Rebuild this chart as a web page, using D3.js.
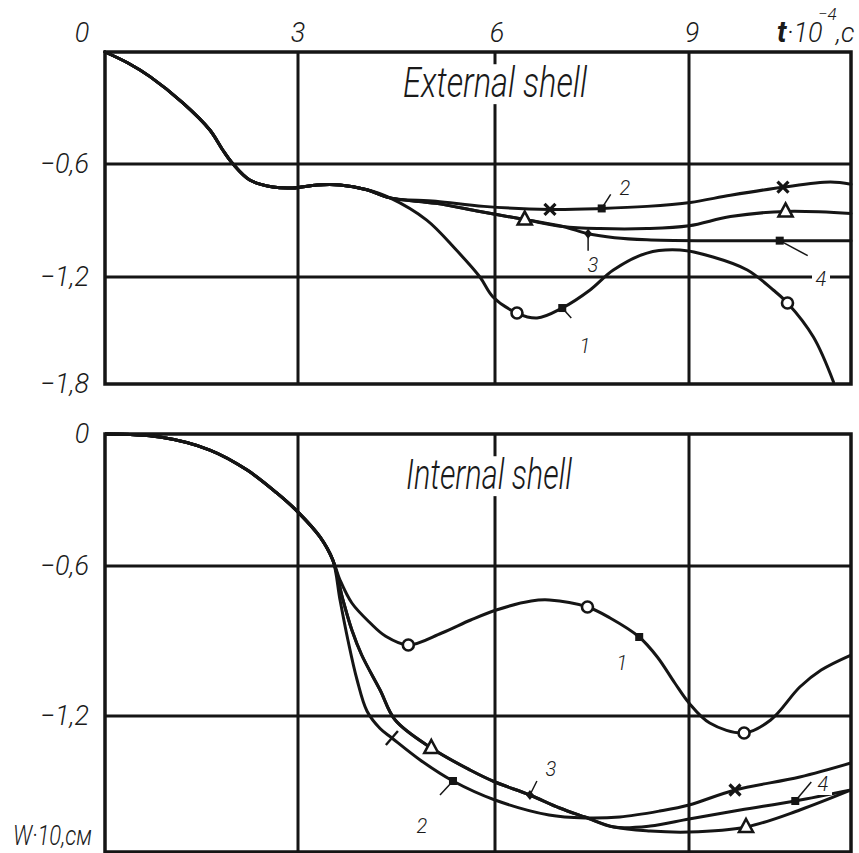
<!DOCTYPE html>
<html><head><meta charset="utf-8">
<script src="https://cdn.jsdelivr.net/npm/d3@7"></script>
<style>
html,body{margin:0;padding:0;background:#fff;}
text{font-family:Roboto,"DejaVu Sans Condensed","Open Sans",sans-serif;font-style:italic;font-weight:300;fill:#1a1a1a;}
text.bold{font-weight:700;}
</style>
</head><body>
<svg id="c" width="859" height="853"></svg>
<script>
// ---------- data ----------
const tTicks = [0, 3, 6, 9];
const tTickLabels = ["0", "3", "6", "9"];
const wTicks = [0, -0.6, -1.2, -1.8];
const wTickLabels = ["0", "\u22120,6", "\u22121,2", "\u22121,8"];
const wTicksBottom = [0, -0.6, -1.2];
const wTickLabelsBottom = ["0", "\u22120,6", "\u22121,2"];

// External shell (t·10^-4 s, W·10 cm)
const extShared = [[0,0],[0.357,-0.059],[0.70,-0.132],[1.21,-0.273],[1.63,-0.418],[1.83,-0.525],[1.99,-0.60],[2.25,-0.685],[2.61,-0.722],[2.92,-0.727],[3.29,-0.711],[3.64,-0.711],[4.05,-0.737],[4.40,-0.780]];
const ext1 = [[4.96,-0.898],[5.39,-1.049],[5.77,-1.20],[5.97,-1.312],[6.34,-1.402],[6.65,-1.43],[7.04,-1.374],[7.47,-1.273],[7.83,-1.163],[8.35,-1.073],[8.86,-1.057],[9.37,-1.094],[9.90,-1.163],[10.30,-1.273],[10.52,-1.346],[10.92,-1.537],[11.23,-1.789]];
const ext2 = [[5.10,-0.798],[5.83,-0.825],[6.85,-0.841],[7.65,-0.836],[8.35,-0.825],[9.02,-0.804],[9.64,-0.766],[10.45,-0.723],[11.18,-0.696],[11.5,-0.707]];
const ext3 = [[5.10,-0.809],[5.77,-0.852],[6.46,-0.895],[7.05,-0.932],[7.62,-0.943],[8.35,-0.943],[9.0,-0.928],[9.64,-0.879],[10.49,-0.852],[11.5,-0.863]];
const ext4 = [[5.10,-0.809],[5.77,-0.852],[6.46,-0.895],[7.05,-0.932],[7.44,-0.970],[7.85,-0.991],[8.35,-1.002],[9.17,-1.007],[10.40,-1.007],[11.5,-1.007]];

const extCircles = [[6.34,-1.402],[10.52,-1.346]];
const extCrosses = [[6.85,-0.841],[10.45,-0.723]];
const extTriangles = [[6.46,-0.895],[10.49,-0.852]];
const extSquares = [[7.04,-1.374],[7.65,-0.836],[10.40,-1.007]];
const extDiamonds = [[7.44,-0.970]];

// Internal shell
const intShared = [[0,0],[0.855,-0.014],[1.63,-0.073],[2.21,-0.164],[2.67,-0.268],[3.0,-0.355],[3.335,-0.468],[3.53,-0.573]];
const int1 = [[3.64,-0.656],[3.82,-0.748],[4.10,-0.828],[4.33,-0.88],[4.68,-0.916],[5.19,-0.868],[5.63,-0.816],[6.02,-0.776],[6.56,-0.74],[6.84,-0.736],[7.43,-0.764],[7.78,-0.808],[8.23,-0.884],[8.51,-0.964],[8.78,-1.068],[9.0,-1.148],[9.32,-1.228],[9.85,-1.268],[10.26,-1.216],[10.71,-1.084],[11.04,-1.016],[11.5,-0.956]];
const int2 = [[3.64,-0.736],[3.76,-0.896],[3.90,-1.056],[4.05,-1.18],[4.25,-1.25],[4.43,-1.288],[4.86,-1.376],[5.36,-1.46],[6.0,-1.536],[6.835,-1.596],[7.39,-1.608],[7.93,-1.604],[8.55,-1.58],[9.0,-1.556],[9.71,-1.496],[10.71,-1.444],[11.5,-1.388]];
const int3 = [[3.685,-0.736],[3.82,-0.856],[3.97,-0.956],[4.25,-1.096],[4.48,-1.216],[5.03,-1.328],[5.62,-1.416],[6.0,-1.464],[6.54,-1.516],[7.0,-1.568],[7.39,-1.604],[7.84,-1.644],[8.40,-1.66],[9.0,-1.664],[9.88,-1.644],[10.71,-1.576],[11.5,-1.496]];
const int4 = [[3.685,-0.736],[3.82,-0.856],[3.97,-0.956],[4.25,-1.096],[4.48,-1.216],[5.03,-1.328],[5.62,-1.416],[6.0,-1.464],[6.54,-1.516],[7.0,-1.568],[7.39,-1.604],[7.84,-1.644],[8.40,-1.64],[9.0,-1.612],[9.79,-1.576],[10.64,-1.54],[11.5,-1.496]];

const intCircles = [[4.68,-0.916],[7.43,-0.764],[9.85,-1.268]];
const intCrosses = [[9.71,-1.496]];
const intTicks = [[4.43,-1.288]];
const intTriangles = [[5.03,-1.328],[9.88,-1.644]];
const intSquares = [[8.23,-0.884],[5.36,-1.46],[10.64,-1.54]];
const intDiamonds = [[6.54,-1.516]];

// ---------- drawing ----------
const svg = d3.select("#c");
const INK = "#151515";
const x = d3.scaleLinear().domain([0, 3, 6, 9, 11.5]).range([105, 298, 495, 689, 851]);
const yTop = d3.scaleLinear().domain([0, -0.6, -1.2, -1.8]).range([52, 164, 277, 384]);
const yBot = d3.scaleLinear().domain([0, -0.6, -1.2, -1.8]).range([434, 566, 716, 866]);
const botEdge = 852;

function panel(y, wt, bottomPx) {
  const g = svg.append("g");
  const top = y(0);
  const bot = bottomPx;
  wt.forEach(v => {
    const yy = y(v);
    if (yy > top + 1 && yy < bot - 1)
      g.append("line").attr("x1", x(0)).attr("x2", x(11.5)).attr("y1", yy).attr("y2", yy)
        .attr("stroke", INK).attr("stroke-width", 3);
  });
  tTicks.forEach(v => {
    if (v > 0)
      g.append("line").attr("x1", x(v)).attr("x2", x(v)).attr("y1", top).attr("y2", bot)
        .attr("stroke", INK).attr("stroke-width", 3);
  });
  g.append("rect").attr("x", x(0)).attr("y", top).attr("width", x(11.5) - x(0)).attr("height", bot - top)
    .attr("fill", "none").attr("stroke", INK).attr("stroke-width", 3.5);
  return g;
}

panel(yTop, wTicks, yTop(-1.8));
panel(yBot, wTicksBottom, botEdge);

function title(txt, cx, base, w, fs) {
  svg.append("rect").attr("x", cx - w / 2 - 4).attr("y", base - fs * 0.78).attr("width", w + 8).attr("height", fs * 0.95).attr("fill", "#fff");
  svg.append("text").attr("x", cx - w / 2).attr("y", base).attr("font-size", fs)
    .attr("textLength", w).attr("lengthAdjust", "spacingAndGlyphs").text(txt);
}
title("External shell", 495, 97, 184, 42);
title("Internal shell", 489, 489, 166, 42);

// tick labels
const tLabelX = [82, 298, 497, 692];
tTicks.forEach((v, i) => {
  svg.append("text").attr("x", tLabelX[i]).attr("y", 42).attr("font-size", 27)
    .attr("text-anchor", "middle").text(tTickLabels[i]);
});
wTicks.forEach((v, i) => {
  if (i === 0) return; // top "0" shared with the t-axis origin label
  svg.append("text").attr("x", 89).attr("y", yTop(v) + 9).attr("font-size", 27)
    .attr("text-anchor", "end").text(wTickLabels[i]);
});
wTicksBottom.forEach((v, i) => {
  svg.append("text").attr("x", i === 0 ? 82 : 89).attr("y", yBot(v) + 9).attr("font-size", 27)
    .attr("text-anchor", i === 0 ? "middle" : "end").text(wTickLabelsBottom[i]);
});

// axis titles
svg.append("text").attr("class", "bold").attr("x", 777).attr("y", 42).attr("font-size", 29).text("t");
svg.append("text").attr("x", 787).attr("y", 42).attr("font-size", 27).text("\u00b710");
svg.append("text").attr("x", 818).attr("y", 20).attr("font-size", 17).text("\u22124");
svg.append("text").attr("x", 836).attr("y", 42).attr("font-size", 27).text(",\u0441");
svg.append("text").attr("x", 13).attr("y", 845).attr("font-size", 28)
  .attr("textLength", 79).attr("lengthAdjust", "spacingAndGlyphs").text("W\u00b710,\u0441\u043c");

// curves
function curve(g, y, pts) {
  const line = d3.line().x(d => x(d[0])).y(d => y(d[1])).curve(d3.curveCatmullRom.alpha(0.5));
  g.append("path").attr("d", line(pts)).attr("fill", "none").attr("stroke", INK)
    .attr("stroke-width", 3).attr("stroke-linejoin", "round").attr("stroke-linecap", "round");
}
const clipB = svg.append("defs").append("clipPath").attr("id", "cb");
clipB.append("rect").attr("x", x(0)).attr("y", yBot(0) - 5).attr("width", x(11.5) - x(0)).attr("height", botEdge - yBot(0) + 5);

const cTop = svg.append("g");
[ext1, ext2, ext3, ext4].forEach(s => curve(cTop, yTop, extShared.concat(s)));
const cBot = svg.append("g").attr("clip-path", "url(#cb)");
[int1, int2, int3, int4].forEach(s => curve(cBot, yBot, intShared.concat(s)));

// leaders and curve labels
function leader(x1, y1, x2, y2) {
  svg.append("line").attr("x1", x1).attr("y1", y1).attr("x2", x2).attr("y2", y2)
    .attr("stroke", INK).attr("stroke-width", 1.5);
}
function numLabel(txt, cx, base, bg) {
  if (bg) svg.append("rect").attr("x", cx - 9).attr("y", base - 16).attr("width", 18).attr("height", 20).attr("fill", "#fff");
  svg.append("text").attr("x", cx).attr("y", base).attr("font-size", 20).attr("text-anchor", "middle").text(txt);
}
leader(x(7.04), yTop(-1.374), x(7.04) + 9, yTop(-1.374) + 10);
numLabel("1", 585, 353);
leader(x(7.65), yTop(-0.836), x(7.65) + 9, yTop(-0.836) - 14);
numLabel("2", 625, 195);
leader(x(7.44), yTop(-0.970), x(7.44), yTop(-0.970) + 17);
numLabel("3", 593, 272);
leader(x(10.40), yTop(-1.007), x(10.40) + 28, yTop(-1.007) + 15);
numLabel("4", 821, 286, true);
numLabel("1", 622, 670);
leader(x(5.36), yBot(-1.46), x(5.36) - 13, yBot(-1.46) + 14);
numLabel("2", 422, 833);
leader(x(6.54), yBot(-1.516), x(6.54) + 7, yBot(-1.516) - 14);
numLabel("3", 551, 776);
leader(x(10.64), yBot(-1.54), x(10.64) + 16, yBot(-1.54) - 19);
numLabel("4", 823, 791, true);

// markers
function markers(g, y, pts, type) {
  pts.forEach(p => {
    const cx = x(p[0]), cy = y(p[1]);
    if (type === "circle") {
      g.append("circle").attr("cx", cx).attr("cy", cy).attr("r", 5.5).attr("fill", "#fff").attr("stroke", INK).attr("stroke-width", 2.6);
    } else if (type === "cross") {
      const s = 5.5;
      g.append("path").attr("d", `M${cx-s},${cy-s}L${cx+s},${cy+s}M${cx-s},${cy+s}L${cx+s},${cy-s}`)
        .attr("stroke", INK).attr("stroke-width", 3.2);
    } else if (type === "triangle") {
      g.append("path").attr("d", `M${cx},${cy-8}L${cx+7},${cy+5}L${cx-7},${cy+5}Z`)
        .attr("fill", "#fff").attr("stroke", INK).attr("stroke-width", 2.6).attr("stroke-linejoin", "miter");
    } else if (type === "square") {
      g.append("rect").attr("x", cx - 4).attr("y", cy - 4).attr("width", 8).attr("height", 8).attr("fill", INK);
    } else if (type === "diamond") {
      g.append("path").attr("d", `M${cx},${cy-5}L${cx+4},${cy}L${cx},${cy+5}L${cx-4},${cy}Z`).attr("fill", INK);
    } else if (type === "tick") {
      g.append("path").attr("d", `M${cx-6},${cy+7}L${cx+6},${cy-7}`).attr("stroke", INK).attr("stroke-width", 2.4);
    }
  });
}
const mTop = svg.append("g");
markers(mTop, yTop, extCircles, "circle");
markers(mTop, yTop, extCrosses, "cross");
markers(mTop, yTop, extTriangles, "triangle");
markers(mTop, yTop, extSquares, "square");
markers(mTop, yTop, extDiamonds, "diamond");
const mBot = svg.append("g");
markers(mBot, yBot, intCircles, "circle");
markers(mBot, yBot, intCrosses, "cross");
markers(mBot, yBot, intTicks, "tick");
markers(mBot, yBot, intTriangles, "triangle");
markers(mBot, yBot, intSquares, "square");
markers(mBot, yBot, intDiamonds, "diamond");
</script>
</body></html>
